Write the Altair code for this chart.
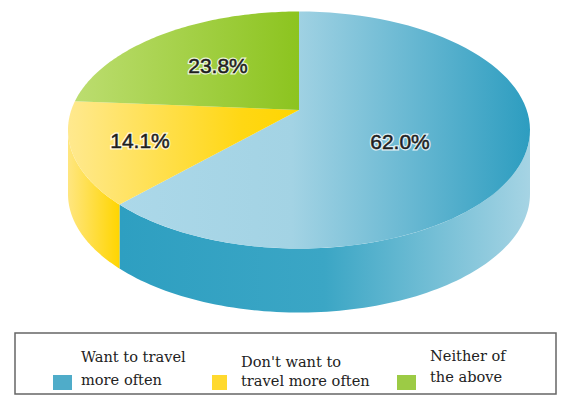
import math
import altair as alt
import pandas as pd

categories = ["Want to travel more often", "Don't want to travel more often", "Neither of the above"]
shares = [62.0, 14.1, 23.8]
legend_lines = [["Want to travel", "more often"], ["Don't want to", "travel more often"], ["Neither of", "the above"]]

W, H = 565, 403
M = 8  # page margin
CX, CY, RX, RY = 299, 130, 231, 118.5
DEPTH = 64
APEX = (299, 110)
# Ellipse parameter angles (degrees clockwise from the top) of the drawn slice edges
A_BLUE_YELLOW = 231.0
A_YELLOW_GREEN = 284.0


def pt(a, dy=0):
    r = math.radians(a)
    return [CX + RX * math.sin(r), CY - RY * math.cos(r) + dy]


def arc(a0, a1, dy=0, n=90):
    return [pt(a0 + (a1 - a0) * i / n, dy) for i in range(n + 1)]


def shape(name, ring):
    ring = ring + [ring[0]]
    return alt.Data(values=[{"type": "Feature", "properties": {"name": name},
                             "geometry": {"type": "Polygon", "coordinates": [ring]}}])


def grad(stops):
    return alt.Gradient(gradient="linear", x1=0, x2=1, y1=0, y2=0,
                        stops=[alt.GradientStop(offset=o, color=c) for o, c in stops])


PROJ = alt.Projection(type="identity", scale=1, translate=[-M, -M])


def poly(name, ring, fill):
    return alt.Chart(shape(name, ring)).mark_geoshape(fill=fill, stroke=None).project(**PROJ.to_dict())


wall_blue = poly("wall blue", arc(90, A_BLUE_YELLOW) + arc(A_BLUE_YELLOW, 90, DEPTH),
                 grad([(0, "#2E9FC1"), (0.5, "#3BA6C5"), (1, "#A6D4E4")]))
wall_yellow = poly("wall yellow", arc(A_BLUE_YELLOW, 270) + arc(270, A_BLUE_YELLOW, DEPTH),
                   grad([(0, "#FFE680"), (1, "#FFD500")]))
top_blue = poly("top blue", [list(APEX)] + arc(0, A_BLUE_YELLOW),
                grad([(0, "#ACD8E9"), (0.42, "#A3D3E4"), (1, "#2D9DC0")]))
top_yellow = poly("top yellow", [list(APEX)] + arc(A_BLUE_YELLOW, A_YELLOW_GREEN),
                  grad([(0, "#FFE98F"), (0.75, "#FFD714"), (1, "#FFD500")]))
top_green = poly("top green", [list(APEX)] + arc(A_YELLOW_GREEN, 360),
                 grad([(0, "#BCDD70"), (1, "#8CC41F")]))


def label(text, x, y, **kw):
    return alt.Chart(pd.DataFrame({"t": [text]})).mark_text(**kw).encode(
        text="t:N", x=alt.value(x - M), y=alt.value(y - M))


pct_pos = [(400, 143), (140, 142), (218, 67)]
pct_labels = []
for v, (x, y) in zip(shares, pct_pos):
    s = f"{v:.1f}%"
    pct_labels.append(label(s, x, y, font="Liberation Sans", fontSize=21, color="white",
                            stroke="white", strokeWidth=3, opacity=0.8, align="center", baseline="middle"))
    pct_labels.append(label(s, x, y, font="Liberation Sans", fontSize=21, color="#1f1f1f", stroke="#1f1f1f",
                            strokeWidth=0.5, align="center", baseline="middle"))

box = alt.Chart(pd.DataFrame({"a": [0]})).mark_rect(fill="white", stroke="#666666", strokeWidth=1.5).encode(
    x=alt.value(15 - M), x2=alt.value(556 - M), y=alt.value(333 - M), y2=alt.value(394 - M))

swatch_x = [53, 212, 397]
swatch_w = [19, 15, 19]
swatch_colors = ["#4FACC9", "#FFD92E", "#9CCB45"]
text_x = [81, 241, 430]
line_y = [[358, 381], [363, 382], [357, 378]]
legend = []
for sx, sw, col in zip(swatch_x, swatch_w, swatch_colors):
    legend.append(alt.Chart(pd.DataFrame({"a": [0]})).mark_rect(fill=col).encode(
        x=alt.value(sx - M), x2=alt.value(sx + sw - M), y=alt.value(375 - M), y2=alt.value(390 - M)))
for tx, lines, ys in zip(text_x, legend_lines, line_y):
    for s, y in zip(lines, ys):
        legend.append(label(s, tx, y, font="DejaVu Serif", fontSize=14.6, color="#222222",
                            align="left", baseline="middle"))

chart = alt.layer(wall_blue, wall_yellow, top_blue, top_yellow, top_green, *pct_labels, box, *legend).properties(
    width=W - 2 * M, height=H - 2 * M, padding=0, autosize=alt.AutoSizeParams(type="none"),
    background="white").configure_view(stroke=None)

chart.save("out.html", embed_options={"renderer": "svg", "actions": False})
